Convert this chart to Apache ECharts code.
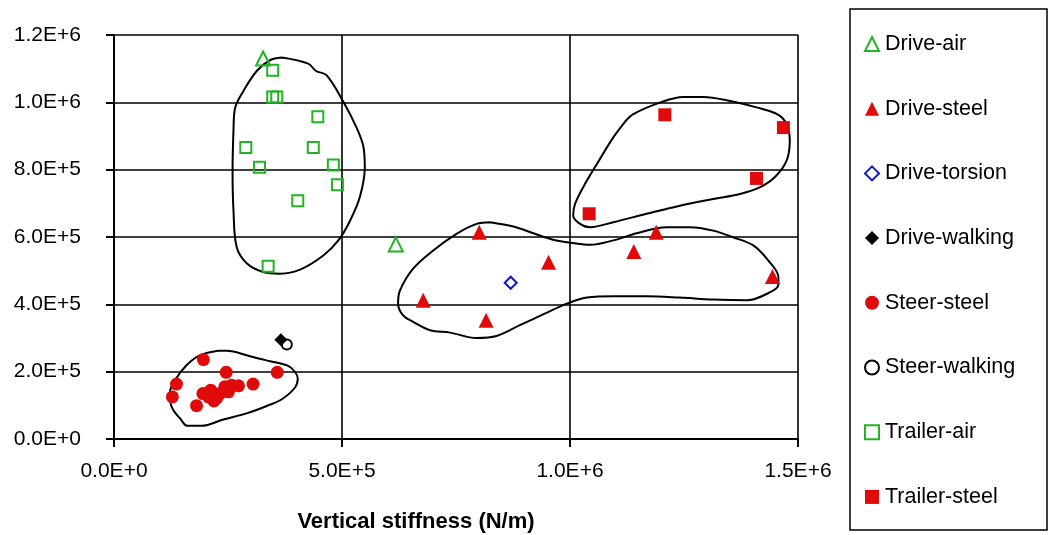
<!DOCTYPE html>
<html>
<head>
<meta charset="utf-8">
<script src="https://cdn.jsdelivr.net/npm/echarts@6/dist/echarts.min.js"></script>
<style>html,body{margin:0;padding:0;background:#fff}#c{width:1048px;height:535px}</style>
</head>
<body>
<div id="c"></div>
<script>
// ---- data ----
const xTicks = [0, 500000, 1000000, 1500000];
const yTicks = [0, 200000, 400000, 600000, 800000, 1000000, 1200000];
const seriesNames = ['Drive-air','Drive-steel','Drive-torsion','Drive-walking','Steer-steel','Steer-walking','Trailer-air','Trailer-steel'];

const driveAir = [[327000,1130000],[618000,578000]];
const driveSteel = [[801000,614000],[953000,525000],[678000,412000],[816000,353000],[1140000,557000],[1189000,614000],[1444000,483000]];
const driveTorsion = [[870000,464000]];
const driveWalking = [[366000,295000]];
const steerSteel = [[196000,236000],[246000,198000],[358000,198000],[137000,163000],[128000,125000],[305000,163000],[181000,99000],[219000,113000],[195000,135000],[212000,145000],[207000,125000],[232000,135000],[243000,155000],[258000,160000],[273000,158000],[251000,140000],[225000,121000]];
const steerWalking = [[379000,281000]];
const trailerAir = [[348000,1095000],[348000,1016000],[357000,1016000],[447000,957000],[289000,866000],[437000,866000],[319000,807000],[481000,814000],[490000,755000],[403000,708000],[338000,513000]];
const trailerSteel = [[1208000,963000],[1468000,925000],[1409000,774000],[1042000,669000]];

// hand-drawn group outlines
const outlineTrailerAir = [[368000,1133000],[426000,1115000],[443000,1093000],[466000,1081000],[502000,1004000],[532000,925000],[547000,868000],[550000,807000],[539000,718000],[516000,644000],[492000,590000],[459000,545000],[408000,503000],[364000,491000],[327000,496000],[291000,522000],[269000,570000],[262000,679000],[260000,797000],[262000,916000],[265000,980000],[284000,1034000],[313000,1093000],[342000,1125000],[368000,1133000]];
const outlineTrailerSteel = [[1121000,943000],[1139000,965000],[1197000,999000],[1248000,1016000],[1292000,1016000],[1351000,1004000],[1409000,985000],[1457000,963000],[1475000,935000],[1482000,886000],[1475000,827000],[1450000,779000],[1417000,748000],[1373000,728000],[1314000,713000],[1241000,693000],[1168000,669000],[1095000,644000],[1044000,629000],[1022000,639000],[1007000,664000],[1011000,698000],[1029000,748000],[1059000,817000],[1095000,896000],[1121000,943000]];
const outlineDriveSteel = [[825000,644000],[876000,631000],[920000,611000],[963000,592000],[1007000,582000],[1044000,577000],[1095000,590000],[1146000,611000],[1212000,629000],[1263000,629000],[1314000,619000],[1358000,599000],[1402000,575000],[1435000,530000],[1457000,481000],[1457000,459000],[1439000,436000],[1388000,412000],[1314000,414000],[1241000,420000],[1168000,424000],[1095000,424000],[1037000,420000],[993000,402000],[941000,370000],[890000,338000],[839000,306000],[795000,300000],[737000,316000],[693000,323000],[656000,348000],[634000,367000],[623000,402000],[627000,441000],[656000,506000],[700000,560000],[752000,610000],[795000,639000],[825000,644000]];
const outlineSteerSteel = [[229000,262000],[247000,262000],[298000,246000],[342000,231000],[382000,217000],[397000,199000],[403000,180000],[397000,153000],[368000,118000],[335000,98000],[291000,76000],[240000,58000],[192000,39000],[161000,39000],[145000,61000],[130000,86000],[123000,116000],[123000,140000],[134000,175000],[159000,219000],[189000,249000],[229000,262000]];

// ---- chart ----
const GREEN = '#22b422', RED = '#e00a0a', BLUE = '#0a14dc', BLACK = '#000';
const FONT = 'Arial, "Liberation Sans", sans-serif';

function fmtE(v){
  if (v === 0) return '0.0E+0';
  const e = Math.floor(Math.log10(Math.abs(v)) + 1e-9);
  const m = v / Math.pow(10, e);
  return m.toFixed(1) + 'E+' + e;
}

function scatter(name, data, symbol, size, fill, stroke){
  return {
    name, type: 'scatter', data, symbol, symbolSize: size, z: 3,
    itemStyle: { color: fill, borderColor: stroke, borderWidth: fill === 'transparent' ? 2 : 0, opacity: 1 },
    emphasis: { disabled: true }
  };
}
function outline(data){
  return {
    type: 'line', data, smooth: 0.35, showSymbol: false, symbol: 'none', silent: true, z: 2,
    lineStyle: { color: BLACK, width: 2 }, emphasis: { disabled: true }, tooltip: { show: false }
  };
}

const chart = echarts.init(document.getElementById('c'), null, { renderer: 'canvas' });
chart.setOption({
  animation: false,
  backgroundColor: '#fff',
  grid: { left: 114, right: 250, top: 35, bottom: 96, containLabel: false, outerBoundsMode: 'none' },
  xAxis: {
    type: 'value', min: xTicks[0], max: xTicks[xTicks.length-1], interval: xTicks[1]-xTicks[0],
    name: 'Vertical stiffness (N/m)', nameLocation: 'middle', nameGap: 72,
    nameTextStyle: { fontFamily: FONT, fontSize: 22, fontWeight: 'bold', color: BLACK, padding: [0, 80, 0, 0] },
    axisLine: { show: true, onZero: false, lineStyle: { color: BLACK, width: 2 } },
    axisTick: { show: true, length: 8, lineStyle: { color: BLACK, width: 2 } },
    axisLabel: { formatter: fmtE, fontFamily: FONT, fontSize: 21, color: BLACK, margin: 22 },
    splitLine: { show: true, lineStyle: { color: BLACK, width: 1.6 } }
  },
  yAxis: {
    type: 'value', min: yTicks[0], max: yTicks[yTicks.length-1], interval: yTicks[1]-yTicks[0],
    axisLine: { show: true, lineStyle: { color: BLACK, width: 2 } },
    axisTick: { show: true, length: 8, lineStyle: { color: BLACK, width: 2 } },
    axisLabel: { formatter: fmtE, fontFamily: FONT, fontSize: 21, color: BLACK, margin: 33 },
    splitLine: { show: true, lineStyle: { color: BLACK, width: 1.6 } }
  },
  legend: {
    orient: 'vertical', left: 859, top: 28, itemGap: 42.7, itemWidth: 14, itemHeight: 14,
    data: seriesNames, selectedMode: false,
    textStyle: { fontFamily: FONT, fontSize: 21.5, color: BLACK, lineHeight: 22, padding: [0,0,0,1] }
  },
  graphic: [{
    type: 'rect', shape: { x: 850, y: 9, width: 197, height: 521 },
    style: { fill: 'none', stroke: BLACK, lineWidth: 1.5 }, silent: true, z: 0
  }],
  series: [
    outline(outlineTrailerAir), outline(outlineTrailerSteel), outline(outlineDriveSteel), outline(outlineSteerSteel),
    scatter(seriesNames[0], driveAir, 'triangle', 14, 'transparent', GREEN),
    scatter(seriesNames[1], driveSteel, 'triangle', 15, RED, RED),
    scatter(seriesNames[2], driveTorsion, 'diamond', 12, 'transparent', BLUE),
    scatter(seriesNames[3], driveWalking, 'diamond', 13, BLACK, BLACK),
    scatter(seriesNames[4], steerSteel, 'circle', 13, RED, RED),
    scatter(seriesNames[5], steerWalking, 'circle', 10, 'transparent', BLACK),
    scatter(seriesNames[6], trailerAir, 'rect', 11, 'transparent', GREEN),
    scatter(seriesNames[7], trailerSteel, 'rect', 13, RED, RED)
  ]
});
</script>
</body>
</html>
